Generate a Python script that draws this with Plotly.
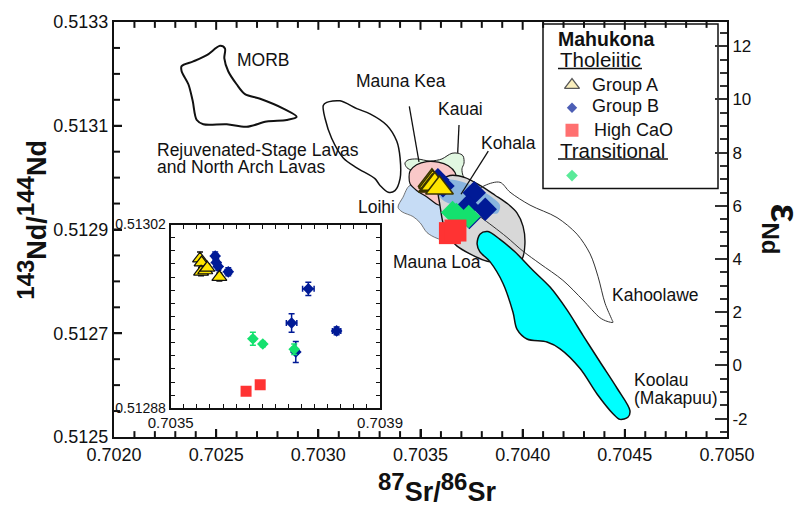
import plotly.graph_objects as go

FONT = "Liberation Sans, Arial, sans-serif"

# ---------------- Sample data (Mahukona) ----------------
grpA_sr = [0.703556, 0.703559, 0.703558, 0.703566, 0.703570, 0.703593]
grpA_nd = [0.512994, 0.512991, 0.512984, 0.512985, 0.512987, 0.512980]
grpA_sr_err = [0.000004, 0.000004, 0.000004, 0.000004, 0.000004, 0.000004]
grpA_nd_err = [0.000005, 0.000003, 0.000003, 0.000003, 0.000003, 0.000003]

grpB_sr = [0.703585, 0.703587, 0.703591, 0.703610, 0.703763, 0.703731, 0.703817, 0.703739]
grpB_nd = [0.512996, 0.512991, 0.512988, 0.512984, 0.512971, 0.512945, 0.512939, 0.512923]
grpB_sr_err = [0.000005, 0.000005, 0.000005, 0.000006, 0.000011, 0.000010, 0.000008, 0.000004]
grpB_nd_err = [0.000003, 0.000003, 0.000003, 0.000003, 0.000005, 0.000007, 0.000003, 0.000008]

hcao_sr = [0.703644, 0.703671]
hcao_nd = [0.512893, 0.512898]
hcao_sr_err = [0.000004, 0.000004]
hcao_nd_err = [0.000003, 0.000002]

trans_sr = [0.703657, 0.703676, 0.703736]
trans_nd = [0.512933, 0.512929, 0.512925]
trans_sr_err = [0.000004, 0.000004, 0.000004]
trans_nd_err = [0.000005, 0.000002, 0.000004]

# ---------------- Literature fields ----------------
morb_sr = [0.702519, 0.702543, 0.702540, 0.702559, 0.702600, 0.702641, 0.702715, 0.702829,
           0.702894, 0.702845, 0.702747, 0.702649, 0.702552, 0.702437, 0.702405, 0.702385,
           0.702364, 0.702331, 0.702331, 0.702388, 0.702454]
morb_nd = [0.513254, 0.513249, 0.513230, 0.513205, 0.513180, 0.513161, 0.513152, 0.513133,
           0.513117, 0.513111, 0.513108, 0.513098, 0.513103, 0.513103, 0.513111, 0.513148,
           0.513180, 0.513205, 0.513215, 0.513224, 0.513236]

rejuv_sr = [0.703041, 0.703106, 0.703188, 0.703253, 0.703335, 0.703384, 0.703400, 0.703400,
            0.703375, 0.703342, 0.703302, 0.703277, 0.703188, 0.703122, 0.703065, 0.703033,
            0.703024]
rejuv_nd = [0.513145, 0.513148, 0.513133, 0.513123, 0.513101, 0.513070, 0.513038, 0.512998,
            0.512975, 0.512972, 0.512985, 0.512998, 0.513019, 0.513038, 0.513076, 0.513114,
            0.513139]

kauai_sr = [0.703424, 0.703439, 0.703483, 0.703547, 0.703605, 0.703630, 0.703654, 0.703684,
            0.703708, 0.703713, 0.703703, 0.703708, 0.703728, 0.703679, 0.703595, 0.703498,
            0.703434]
kauai_nd = [0.513028, 0.513034, 0.513036, 0.513032, 0.513036, 0.513042, 0.513047, 0.513047,
            0.513042, 0.513028, 0.513017, 0.513004, 0.512992, 0.512985, 0.512994, 0.513008,
            0.513019]

loihi_sr = [0.703449, 0.703414, 0.703390, 0.703410, 0.703463, 0.703498, 0.703532, 0.703581,
            0.703635, 0.703644, 0.703620, 0.703547]
loihi_nd = [0.512985, 0.512962, 0.512943, 0.512934, 0.512925, 0.512913, 0.512894, 0.512883,
            0.512879, 0.512919, 0.512957, 0.512975]

mkea_sr = [0.703449, 0.703481, 0.703530, 0.703587, 0.703636, 0.703669, 0.703677, 0.703661,
           0.703628, 0.703604, 0.703592, 0.703530, 0.703481, 0.703449, 0.703444]
mkea_nd = [0.513013, 0.513025, 0.513031, 0.513030, 0.513023, 0.513010, 0.512994, 0.512979,
           0.512969, 0.512960, 0.512947, 0.512963, 0.512975, 0.512988, 0.513001]

mloa_sr = [0.703586, 0.703644, 0.703718, 0.703791, 0.703865, 0.703928, 0.703972, 0.704002,
           0.704011, 0.703997, 0.703962, 0.703889, 0.703816, 0.703742, 0.703679, 0.703635,
           0.703610, 0.703595, 0.703586]
mloa_nd = [0.512989, 0.513004, 0.513000, 0.512985, 0.512966, 0.512949, 0.512932, 0.512906,
           0.512872, 0.512843, 0.512830, 0.512834, 0.512840, 0.512853, 0.512868, 0.512887,
           0.512913, 0.512947, 0.512970]

kohala_sr = [0.703595, 0.703635, 0.703703, 0.703781, 0.703850, 0.703889, 0.703879, 0.703816,
             0.703742, 0.703669, 0.703615, 0.703586]
kohala_nd = [0.512985, 0.512996, 0.512992, 0.512979, 0.512962, 0.512947, 0.512932, 0.512932,
             0.512942, 0.512947, 0.512955, 0.512970]

kahoo_sr = [0.703742, 0.703816, 0.703889, 0.703938, 0.704036, 0.704168, 0.704266, 0.704330,
            0.704369, 0.704403, 0.704437, 0.704442, 0.704413, 0.704378, 0.704295, 0.704197,
            0.704085, 0.704002, 0.703923, 0.703855, 0.703791, 0.703742]
kahoo_nd = [0.512962, 0.512985, 0.512991, 0.512972, 0.512947, 0.512923, 0.512891, 0.512853,
            0.512809, 0.512758, 0.512726, 0.512721, 0.512723, 0.512730, 0.512764, 0.512802,
            0.512834, 0.512858, 0.512885, 0.512906, 0.512925, 0.512942]

koolau_sr = [0.703777, 0.703791, 0.703830, 0.703889, 0.703962, 0.704051, 0.704134, 0.704217,
             0.704295, 0.704378, 0.704462, 0.704525, 0.704515, 0.704476, 0.704442, 0.704364,
             0.704281, 0.704183, 0.704119, 0.704021, 0.703972, 0.703953, 0.703904, 0.703840,
             0.703791]
koolau_nd = [0.512872, 0.512891, 0.512896, 0.512881, 0.512857, 0.512821, 0.512789, 0.512745,
             0.512696, 0.512645, 0.512594, 0.512551, 0.512538, 0.512534, 0.512545, 0.512583,
             0.512632, 0.512670, 0.512683, 0.512689, 0.512708, 0.512740, 0.512796, 0.512838,
             0.512857]

# ---------------- Axes / ticks ----------------
x_range = [0.7020, 0.7050]
y_range = [0.5125, 0.5133]
x_ticks = [0.7020, 0.7025, 0.7030, 0.7035, 0.7040, 0.7045, 0.7050]
x_ticktext = ["0.7020", "0.7025", "0.7030", "0.7035", "0.7040", "0.7045", "0.7050"]
y_ticks = [0.5125, 0.5127, 0.5129, 0.5131, 0.5133]
y_ticktext = ["0.5125", "0.5127", "0.5129", "0.5131", "0.5133"]
x_minor_step = 0.0001
y_minor_step = 0.00005
inset_x_range = [0.7035, 0.7039]
inset_y_range = [0.51288, 0.51302]
CHUR_ND = 0.512638
eps_range = [(v / CHUR_ND - 1) * 1e4 for v in y_range]
eps_ticks = [-2, 0, 2, 4, 6, 8, 10, 12]
eps_ticktext = ["-2", "0", "2", "4", "6", "8", "10", "12"]

COL_A = "#ffe600"
COL_B = "#001a96"
COL_R = "#ff3333"
COL_G = "#14e16e"
TRANSPARENT = "rgba(0,0,0,0)"
INK = "#111111"

# plot-area geometry (pixels) used for placing annotations
W, H = 809, 510
L, R, T, B = 114, 82, 13, 73
PW, PH = W - L - R, H - T - B


def px(xpix):
    return (xpix - L) / PW


def py(ypix):
    return (H - B - ypix) / PH


fig = go.Figure()


def closed(v):
    return list(v) + [v[0]]


def add_field(sr, nd, fill, lcol, lw):
    fig.add_trace(go.Scatter(
        x=closed(sr), y=closed(nd), mode="lines", fill="toself", fillcolor=fill,
        line=dict(color=lcol, width=lw, shape="spline", smoothing=0.9),
        hoverinfo="skip", showlegend=False, xaxis="x", yaxis="y"))


add_field(loihi_sr, loihi_nd, "#c6dcf5", "#555555", 0.8)
add_field(kauai_sr, kauai_nd, "#e1f7e1", "#222222", 1.0)
add_field(mkea_sr, mkea_nd, "#f9c8c8", INK, 1.2)
add_field(mloa_sr, mloa_nd, "#d8d8d8", INK, 1.4)
add_field(kohala_sr, kohala_nd, "#88b4de", TRANSPARENT, 0)
add_field(kahoo_sr, kahoo_nd, TRANSPARENT, "#333333", 1.0)
add_field(koolau_sr, koolau_nd, "#00ffff", INK, 1.5)
add_field(rejuv_sr, rejuv_nd, TRANSPARENT, INK, 1.5)
add_field(morb_sr, morb_nd, TRANSPARENT, INK, 2.0)

# main-frame inside ticks, drawn as a line trace in the main axes
x_span = x_range[1] - x_range[0]
y_span = y_range[1] - y_range[0]
tick_x, tick_y = [], []
for i in range(1, int(round(x_span / x_minor_step))):
    xv = x_range[0] + i * x_minor_step
    is_major = any(abs(xv - t) < 1e-9 for t in x_ticks)
    ln = (8 if is_major else 6) / PH * y_span
    tick_x += [xv, xv, None, xv, xv, None]
    tick_y += [y_range[0], y_range[0] + ln, None, y_range[1], y_range[1] - ln, None]
for i in range(1, int(round(y_span / y_minor_step))):
    yv = y_range[0] + i * y_minor_step
    is_major = any(abs(yv - t) < 1e-9 for t in y_ticks)
    ln = (8 if is_major else 6) / PW * x_span
    tick_x += [x_range[0], x_range[0] + ln, None]
    tick_y += [yv, yv, None]
fig.add_trace(go.Scatter(x=tick_x, y=tick_y, mode="lines", line=dict(color=INK, width=2),
                         hoverinfo="skip", showlegend=False, cliponaxis=False,
                         connectgaps=False))

# main plot markers
fig.add_trace(go.Scatter(x=grpB_sr, y=grpB_nd, mode="markers", showlegend=False,
                         marker=dict(symbol="diamond", size=18, color=COL_B, line=dict(width=0))))
fig.add_trace(go.Scatter(x=trans_sr, y=trans_nd, mode="markers", showlegend=False,
                         marker=dict(symbol="diamond", size=18, color=COL_G, line=dict(width=0))))
fig.add_trace(go.Scatter(x=hcao_sr, y=hcao_nd, mode="markers", showlegend=False,
                         marker=dict(symbol="square", size=22, color=COL_R, line=dict(width=0))))
fig.add_trace(go.Scatter(x=grpA_sr, y=grpA_nd, mode="markers", showlegend=False,
                         marker=dict(symbol="triangle-up", size=24, color=COL_A,
                                     line=dict(width=1.5, color="#3a3300"))))

# epsilon-Nd axis: separate subplot sharing the main domain
fig.add_trace(go.Scatter(x=grpA_sr, y=[(v / CHUR_ND - 1) * 1e4 for v in grpA_nd],
                         xaxis="x6", yaxis="y6", mode="markers", marker=dict(opacity=0),
                         hoverinfo="skip", showlegend=False))


# inset markers with error bars
def inset_trace(sr, nd, sre, nde, sym, size, col, ecol, lcol=None, lw=0):
    fig.add_trace(go.Scatter(
        x=sr, y=nd, mode="markers", xaxis="x3", yaxis="y3", showlegend=False,
        error_x=dict(type="data", array=sre, color=ecol, thickness=1.5, width=3),
        error_y=dict(type="data", array=nde, color=ecol, thickness=1.5, width=3),
        marker=dict(symbol=sym, size=size, color=col,
                    line=dict(width=lw, color=lcol if lcol else col))))


inset_trace(grpB_sr, grpB_nd, grpB_sr_err, grpB_nd_err, "diamond", 9, COL_B, COL_B)
inset_trace(trans_sr, trans_nd, trans_sr_err, trans_nd_err, "diamond", 9, COL_G, COL_G)
inset_trace(hcao_sr, hcao_nd, hcao_sr_err, hcao_nd_err, "square", 11, COL_R, COL_R)
inset_trace(grpA_sr, grpA_nd, grpA_sr_err, grpA_nd_err, "triangle-up", 13, COL_A, INK,
            INK, 1.2)

# legend key symbols: a small hidden-axis subplot inside the legend box
leg_key_row = [1, 2, 3, 5]
fig.add_trace(go.Scatter(
    x=[0, 0, 0, 0], y=leg_key_row, mode="markers", xaxis="x5", yaxis="y5", showlegend=False,
    hoverinfo="skip",
    marker=dict(symbol=["triangle-up", "diamond", "square", "diamond"],
                size=[13, 8, 13, 9],
                color=["#f7e7a0", COL_B, COL_R, COL_G],
                line=dict(width=[1.3, 0, 0, 0], color=INK))))

leg_top_px, leg_row_px = 77.5, 23.1
y5_lo = leg_top_px - 0.5 * leg_row_px
y5_hi = leg_top_px + 4.5 * leg_row_px

fig.update_layout(
    width=W, height=H, margin=dict(l=L, r=R, t=T, b=B),
    paper_bgcolor="white", plot_bgcolor=TRANSPARENT, showlegend=False,
    font=dict(family=FONT, color=INK),
    xaxis=dict(range=x_range, showline=True, linecolor=INK, linewidth=2, mirror=True,
               showgrid=False, zeroline=False, ticks="inside", ticklen=8, tickwidth=2,
               tickcolor=INK, tickmode="array", tickvals=x_ticks, ticktext=x_ticktext,
               tickfont=dict(family=FONT, size=18, color=INK)),
    yaxis=dict(range=y_range, showline=True, linecolor=INK, linewidth=2, mirror=True,
               showgrid=False, zeroline=False, ticks="inside", ticklen=8, tickwidth=2,
               tickcolor=INK, tickmode="array", tickvals=y_ticks, ticktext=y_ticktext,
               tickfont=dict(family=FONT, size=18, color=INK)),
    xaxis6=dict(domain=[0, 1], anchor="y6", range=x_range, visible=False, fixedrange=True),
    yaxis6=dict(domain=[0, 1], anchor="x6", side="right", range=eps_range, showgrid=False,
                zeroline=False, showline=True, linecolor=INK, linewidth=2,
                ticks="inside", ticklen=12, tickwidth=2, tickcolor="#333333",
                tickmode="array", tickvals=eps_ticks, ticktext=eps_ticktext,
                tickfont=dict(family=FONT, size=17, color=INK),
                minor=dict(tickmode="linear", tick0=0, dtick=0.5, ticks="inside", ticklen=7,
                           tickwidth=2, tickcolor="#333333")),
    xaxis3=dict(domain=[0.0925, 0.434], anchor="y3", range=inset_x_range,
                showline=True, linecolor=INK, linewidth=2, mirror="ticks",
                showgrid=False, zeroline=False, ticks="inside", ticklen=5, tickwidth=1.2,
                tickcolor=INK, tickmode="array", tickvals=inset_x_range,
                ticktext=["0.7035", "0.7039"], tickfont=dict(family=FONT, size=15),
                minor=dict(tickmode="linear", tick0=0.7035, dtick=0.000025, ticks="inside",
                           ticklen=4, tickwidth=1.2, tickcolor=INK)),
    yaxis3=dict(domain=[0.069, 0.512], anchor="x3", range=inset_y_range,
                showline=True, linecolor=INK, linewidth=2, mirror="ticks",
                showgrid=False, zeroline=False, ticks="inside", ticklen=5, tickwidth=1.2,
                tickcolor=INK, tickmode="array", tickvals=inset_y_range,
                ticktext=["0.51288", "0.51302"], tickfont=dict(family=FONT, size=14),
                minor=dict(tickmode="linear", tick0=0.51288, dtick=0.00001, ticks="inside",
                           ticklen=4, tickwidth=1.2, tickcolor=INK)),
    xaxis5=dict(domain=[px(562), px(582)], anchor="y5", range=[-1, 1], visible=False,
                fixedrange=True),
    yaxis5=dict(domain=[py(y5_hi), py(y5_lo)], anchor="x5", range=[5.5, 0.5],
                visible=False, fixedrange=True),
)


# ---------------- Legend box, underlines, leader lines ----------------
def pline(x0, y0, x1, y1, w=1.3):
    return dict(type="line", xref="paper", yref="paper", x0=px(x0), y0=py(y0),
                x1=px(x1), y1=py(y1), line=dict(color=INK, width=w))


shapes = [
    dict(type="rect", xref="paper", yref="paper", x0=px(543), x1=px(718), y0=py(183),
         y1=py(15), line=dict(color=INK, width=1.5), fillcolor="white", layer="below"),
    pline(558, 60.5, 642, 60.5, 1.5),
    pline(558, 153, 668, 153, 1.5),
    pline(409.3, 99.3, 419, 156),
    pline(459, 118.3, 457.7, 146.7),
    pline(488.3, 145, 461, 189),
]
fig.update_layout(shapes=shapes)


def label(x, y, text, size=18, xanchor="center", bold=False, angle=0):
    fig.add_annotation(xref="paper", yref="paper", x=px(x), y=py(y),
                       text=(f"<b>{text}</b>" if bold else text),
                       showarrow=False, xanchor=xanchor, yanchor="middle", textangle=angle,
                       font=dict(family=FONT, size=size, color=INK))


# legend text
label(556, 30, "Mahukona", size=19.5, xanchor="left", bold=True)
label(558, 51.5, "Tholeiitic", size=20.5, xanchor="left")
label(590, 77, "Group A", size=18, xanchor="left")
label(590, 99, "Group B", size=18, xanchor="left")
label(591.5, 123.5, "High CaO", size=18, xanchor="left")
label(558, 144.5, "Transitional", size=20.5, xanchor="left")

# field labels
label(263, 51.5, "MORB", size=17.5)
label(401, 73.3, "Mauna Kea", size=17.5)
label(460.7, 101.7, "Kauai", size=17.5)
label(508.3, 136.7, "Kohala", size=17.5)
label(376.7, 201.7, "Loihi", size=17.5)
label(436.7, 258.3, "Mauna Loa", size=17.5)
label(155, 143.3, "Rejuvenated-Stage Lavas", size=17.5, xanchor="left")
label(155, 160.7, "and North Arch Lavas", size=17.5, xanchor="left")
label(655, 291.7, "Kahoolawe", size=17.5)
label(631.7, 378.3, "Koolau", size=17.5, xanchor="left")
label(631.7, 396.7, "(Makapuu)", size=17.5, xanchor="left")

# axis titles
fig.add_annotation(xref="paper", yref="paper", x=px(437), y=py(489),
                   text="<b><sup><span style='font-size:24px'>87</span></sup>Sr/"
                        "<sup><span style='font-size:24px'>86</span></sup>Sr</b>",
                   showarrow=False, xanchor="center", yanchor="middle",
                   font=dict(family=FONT, size=27, color=INK))
fig.add_annotation(xref="paper", yref="paper", x=px(32), y=py(215),
                   text="<b><sup><span style='font-size:24px'>143</span></sup>Nd/"
                        "<sup><span style='font-size:24px'>144</span></sup>Nd</b>",
                   showarrow=False, xanchor="center", yanchor="middle", textangle=-90,
                   font=dict(family=FONT, size=27, color=INK))
fig.add_annotation(xref="paper", yref="paper", x=px(782), y=py(224),
                   text="<b>ε<sub><span style='font-size:24px'>Nd</span></sub></b>",
                   showarrow=False, xanchor="center", yanchor="middle", textangle=90,
                   font=dict(family=FONT, size=40, color=INK))

fig.write_html("out.html")
